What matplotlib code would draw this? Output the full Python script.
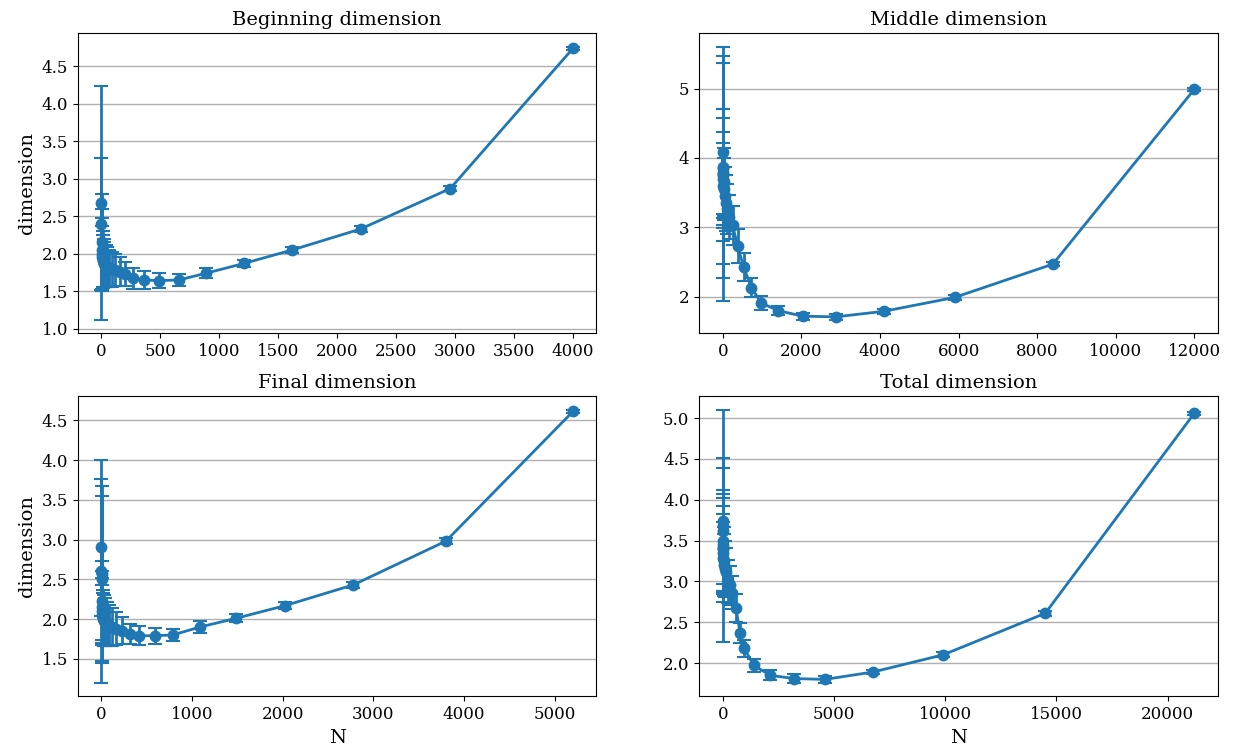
import numpy as np
import matplotlib.pyplot as plt

plt.rcParams['font.family'] = ['DejaVu Serif']

# Beginning dimension
begin_n = [1, 2, 3, 4, 6, 8, 11, 15, 20, 27, 37, 50, 67, 90, 120, 160, 200, 270, 360, 490, 660, 890, 1210, 1620, 2200, 2960, 4000]
begin_y = [2.68, 2.40, 2.15, 2.05, 2.00, 1.95, 1.92, 1.90, 1.88, 1.86, 1.84, 1.82, 1.80, 1.79, 1.78, 1.76, 1.73, 1.67, 1.65, 1.64, 1.65, 1.74, 1.87, 2.05, 2.33, 2.87, 4.74]
begin_err = [1.56, 0.88, 0.65, 0.55, 0.48, 0.42, 0.38, 0.35, 0.32, 0.30, 0.28, 0.27, 0.25, 0.23, 0.21, 0.19, 0.16, 0.14, 0.12, 0.10, 0.08, 0.07, 0.05, 0.04, 0.04, 0.03, 0.02]

# Middle dimension
mid_n = [1, 2, 3, 4, 6, 9, 13, 19, 27, 39, 56, 80, 115, 170, 250, 380, 530, 730, 980, 1410, 2030, 2870, 4100, 5900, 8400, 12000]
mid_y = [3.77, 3.87, 4.09, 3.59, 3.85, 3.80, 3.75, 3.70, 3.65, 3.55, 3.45, 3.35, 3.27, 3.15, 3.03, 2.73, 2.43, 2.13, 1.91, 1.80, 1.72, 1.71, 1.79, 1.99, 2.47, 4.99]
mid_err = [1.83, 1.60, 1.28, 1.12, 0.86, 0.77, 0.62, 0.51, 0.49, 0.45, 0.42, 0.40, 0.36, 0.32, 0.28, 0.25, 0.20, 0.14, 0.10, 0.07, 0.05, 0.04, 0.04, 0.03, 0.03, 0.02]

# Final dimension
final_n = [1, 2, 3, 4, 5, 7, 10, 13, 18, 25, 35, 47, 65, 89, 121, 166, 227, 315, 420, 590, 790, 1090, 1490, 2030, 2780, 3800, 5200]
final_y = [2.60, 2.90, 2.57, 2.50, 2.23, 2.15, 2.10, 2.05, 2.02, 2.00, 1.98, 1.96, 1.94, 1.92, 1.90, 1.88, 1.85, 1.81, 1.79, 1.79, 1.80, 1.90, 2.01, 2.17, 2.43, 2.98, 4.61]
final_err = [1.40, 0.86, 1.10, 1.05, 0.50, 0.45, 0.42, 0.38, 0.35, 0.33, 0.32, 0.30, 0.28, 0.26, 0.24, 0.21, 0.17, 0.13, 0.12, 0.10, 0.08, 0.07, 0.05, 0.04, 0.04, 0.04, 0.02]

# Total dimension
total_n = [1, 2, 3, 5, 7, 10, 15, 22, 33, 48, 70, 100, 150, 220, 320, 420, 590, 780, 960, 1400, 2130, 3200, 4600, 6750, 9900, 14500, 21200]
total_y = [3.68, 3.74, 3.62, 3.41, 3.50, 3.45, 3.40, 3.35, 3.29, 3.25, 3.20, 3.15, 3.11, 3.00, 2.95, 2.86, 2.67, 2.37, 2.18, 1.97, 1.85, 1.81, 1.80, 1.89, 2.10, 2.61, 5.06]
total_err = [1.42, 0.77, 0.77, 0.66, 0.62, 0.57, 0.52, 0.48, 0.44, 0.42, 0.38, 0.34, 0.30, 0.26, 0.24, 0.20, 0.17, 0.12, 0.10, 0.08, 0.06, 0.05, 0.04, 0.03, 0.03, 0.03, 0.02]

panels = [
    ('Beginning dimension', begin_n, begin_y, begin_err),
    ('Middle dimension', mid_n, mid_y, mid_err),
    ('Final dimension', final_n, final_y, final_err),
    ('Total dimension', total_n, total_y, total_err),
]

fig, axes = plt.subplots(2, 2, figsize=(12.34, 7.56), dpi=100)
fig.subplots_adjust(left=0.063, right=0.987, top=0.956, bottom=0.079, wspace=0.198, hspace=0.21)

for i, (ax, (title, n, y, err)) in enumerate(zip(axes.flat, panels)):
    ax.errorbar(n, y, yerr=err, fmt='-o', color='C0', lw=2, ms=7.5, capsize=5, elinewidth=2, capthick=1.5)
    ax.set_title(title, fontsize=14)
    ax.grid(axis='y', color='#b0b0b0', lw=1)
    ax.set_axisbelow(True)
    ax.tick_params(labelsize=12)
    if i % 2 == 0:
        ax.set_ylabel('dimension', fontsize=14)
    if i >= 2:
        ax.set_xlabel('N', fontsize=14)

# middle panel uses whole-number ticks
axes[0, 1].set_yticks([2, 3, 4, 5])

fig.savefig('out.png', dpi=100)
